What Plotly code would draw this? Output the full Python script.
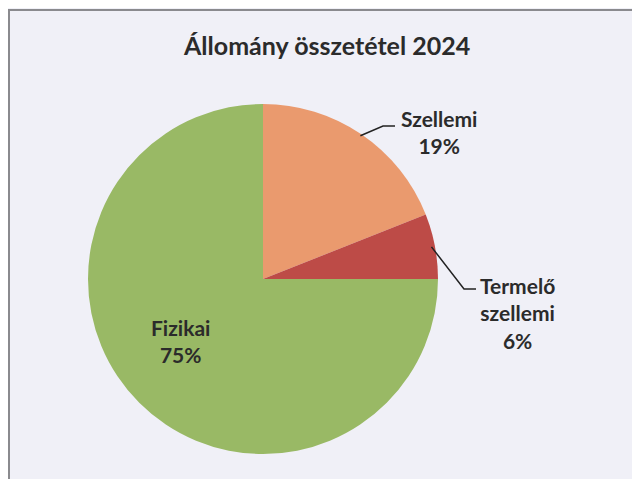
import math
import plotly.graph_objects as go

categories = ["Szellemi", "Termelő szellemi", "Fizikai"]
values = [19, 6, 75]
label_lines = [["Szellemi", "19%"], ["Termelő", "szellemi", "6%"], ["Fizikai", "75%"]]
colors = ["#EA9A6E", "#BD4B47", "#99B965"]
title = "Állomány összetétel 2024"

W, H = 640, 479
OFF = 8  # page body margin
cx, cy, r = 263, 279, 175
FONT = "Lato"

def px(x):
    return (x - OFF) / W

def py(y):
    return 1 - (y - OFF) / H

fig = go.Figure(go.Pie(
    labels=categories, values=values, sort=False, direction="clockwise",
    rotation=0, marker=dict(colors=colors, line=dict(width=0)),
    textinfo="none", hoverinfo="label+percent", showlegend=False,
    domain=dict(x=[px(cx - r), px(cx + r)], y=[py(cy + r), py(cy - r)]),
))

total = sum(values)
cum = 0
mids = []
for v in values:
    mids.append((cum + v / 2) / total * 2 * math.pi)
    cum += v

def edge(a, k=1.0):
    return cx + r * k * math.sin(a), cy - r * k * math.cos(a)

shapes = []
shapes.append(dict(type="line", xref="paper", yref="paper", x0=px(8), y0=py(10), x1=1.0, y1=py(10),
                   line=dict(color="#8a8a8e", width=2)))
shapes.append(dict(type="line", xref="paper", yref="paper", x0=px(9), y0=py(10), x1=px(9), y1=0,
                   line=dict(color="#8a8a8e", width=2)))

sx, sy = edge(mids[0], 0.99)
shapes.append(dict(type="path", xref="paper", yref="paper",
                   path=f"M {px(sx)},{py(sy)} L {px(383)},{py(126)} L {px(395)},{py(126)}",
                   line=dict(color="#222", width=1.5)))
tx, ty = edge(mids[1], 0.98)
shapes.append(dict(type="path", xref="paper", yref="paper",
                   path=f"M {px(tx)},{py(ty)} L {px(464)},{py(289)} L {px(476)},{py(289)}",
                   line=dict(color="#222", width=1.5)))

annotations = [dict(text=f"<b>{title}</b>", x=px(326), y=py(45), xref="paper", yref="paper",
                    xanchor="center", yanchor="middle",
                    showarrow=False, font=dict(family=FONT, size=25, color="#2b2b2b"))]
label_pos = [(439, 132), (517, 313), (180, 341)]
for lines, (lx, ly) in zip(label_lines, label_pos):
    annotations.append(dict(text="<br>".join(f"<b>{t}</b>" for t in lines), x=px(lx), y=py(ly),
                            xref="paper", yref="paper", showarrow=False, align="center",
                            xanchor="center", yanchor="middle",
                            font=dict(family=FONT, size=21, color="#2b2b2b")))

fig.update_layout(
    width=W, height=H, margin=dict(l=0, r=0, t=0, b=0),
    paper_bgcolor="#F0F0F7", plot_bgcolor="#F0F0F7",
    shapes=shapes, annotations=annotations,
)
fig.write_html("out.html")
